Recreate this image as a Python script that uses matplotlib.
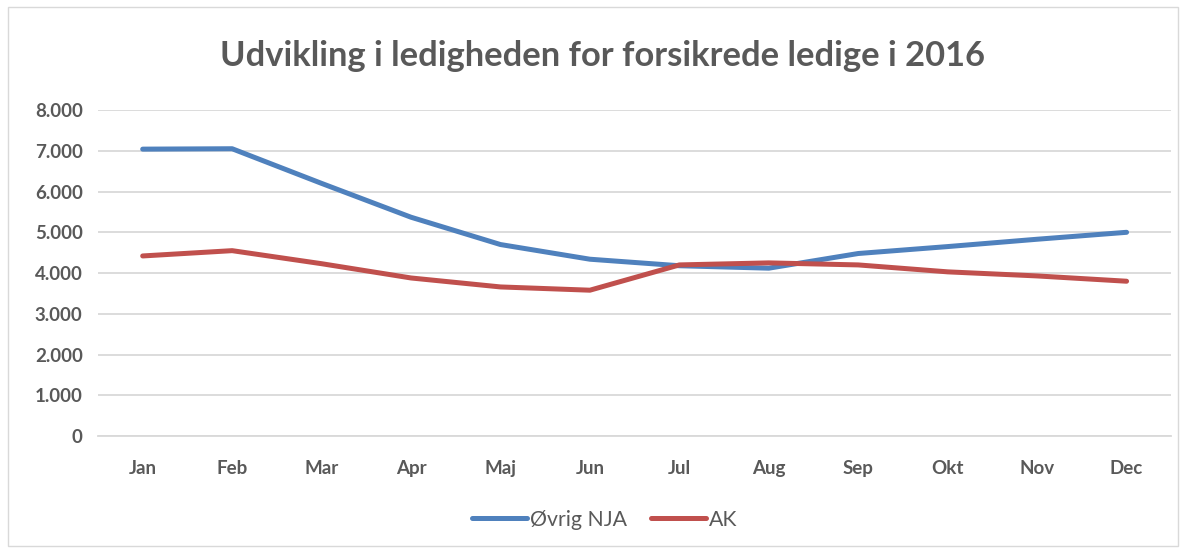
import matplotlib
matplotlib.use("Agg")
import matplotlib.pyplot as plt
from matplotlib.ticker import FuncFormatter
from matplotlib.patches import Rectangle

# data
months = ["Jan", "Feb", "Mar", "Apr", "Maj", "Jun", "Jul", "Aug", "Sep", "Okt", "Nov", "Dec"]
ovrig_nja = [7040, 7050, 6200, 5370, 4700, 4340, 4180, 4120, 4480, 4650, 4830, 5000]
ak = [4420, 4550, 4230, 3880, 3660, 3580, 4200, 4250, 4200, 4030, 3930, 3800]
yticks = [0, 1000, 2000, 3000, 4000, 5000, 6000, 7000, 8000]

gray = "#595959"
plt.rcParams['font.family'] = ['Lato', 'DejaVu Sans']

fig = plt.figure(figsize=(11.86, 5.5), dpi=100)
ax = fig.add_axes([0.0826, 0.207, 0.905, 0.593])

x = range(len(months))
ax.plot(x, ovrig_nja, color="#4F81BD", linewidth=3.6, solid_capstyle="round", label="Øvrig NJA")
ax.plot(x, ak, color="#C0504D", linewidth=3.6, solid_capstyle="round", label="AK")

ax.set_xlim(-0.5, len(months) - 0.5)
ax.set_ylim(0, 8000)
ax.set_yticks(yticks)
ax.yaxis.set_major_formatter(FuncFormatter(lambda v, p: f"{int(v):,}".replace(",", ".")))
ax.set_xticks(list(x))
ax.set_xticklabels(months)
ax.grid(axis="y", color="#D9D9D9", linewidth=1.3)
ax.set_axisbelow(True)
for s in ["top", "right", "left"]:
    ax.spines[s].set_visible(False)
ax.spines["bottom"].set_color("#D9D9D9")
ax.spines["bottom"].set_linewidth(1.3)
ax.tick_params(axis="both", length=0, labelsize=13.5, labelcolor=gray)
ax.tick_params(axis="x", pad=17)
ax.tick_params(axis="y", pad=11)
for lbl in ax.get_xticklabels() + ax.get_yticklabels():
    lbl.set_fontweight("bold")

fig.text(0.508, 0.898, "Udvikling i ledigheden for forsikrede ledige i 2016",
         ha="center", va="center", fontsize=24.8, fontweight="bold", color=gray)

leg = fig.legend(loc="center", bbox_to_anchor=(0.51, 0.055), ncol=2, frameon=False,
                 fontsize=15.3, handlelength=2.6, columnspacing=1.1, handletextpad=0.15)
for t in leg.get_texts():
    t.set_color(gray)

# chart border
fig.patches.append(Rectangle((0.007, 0.008), 0.986, 0.98, transform=fig.transFigure,
                             fill=False, edgecolor="#D9D9D9", linewidth=1))

fig.savefig("out.png", dpi=100)
